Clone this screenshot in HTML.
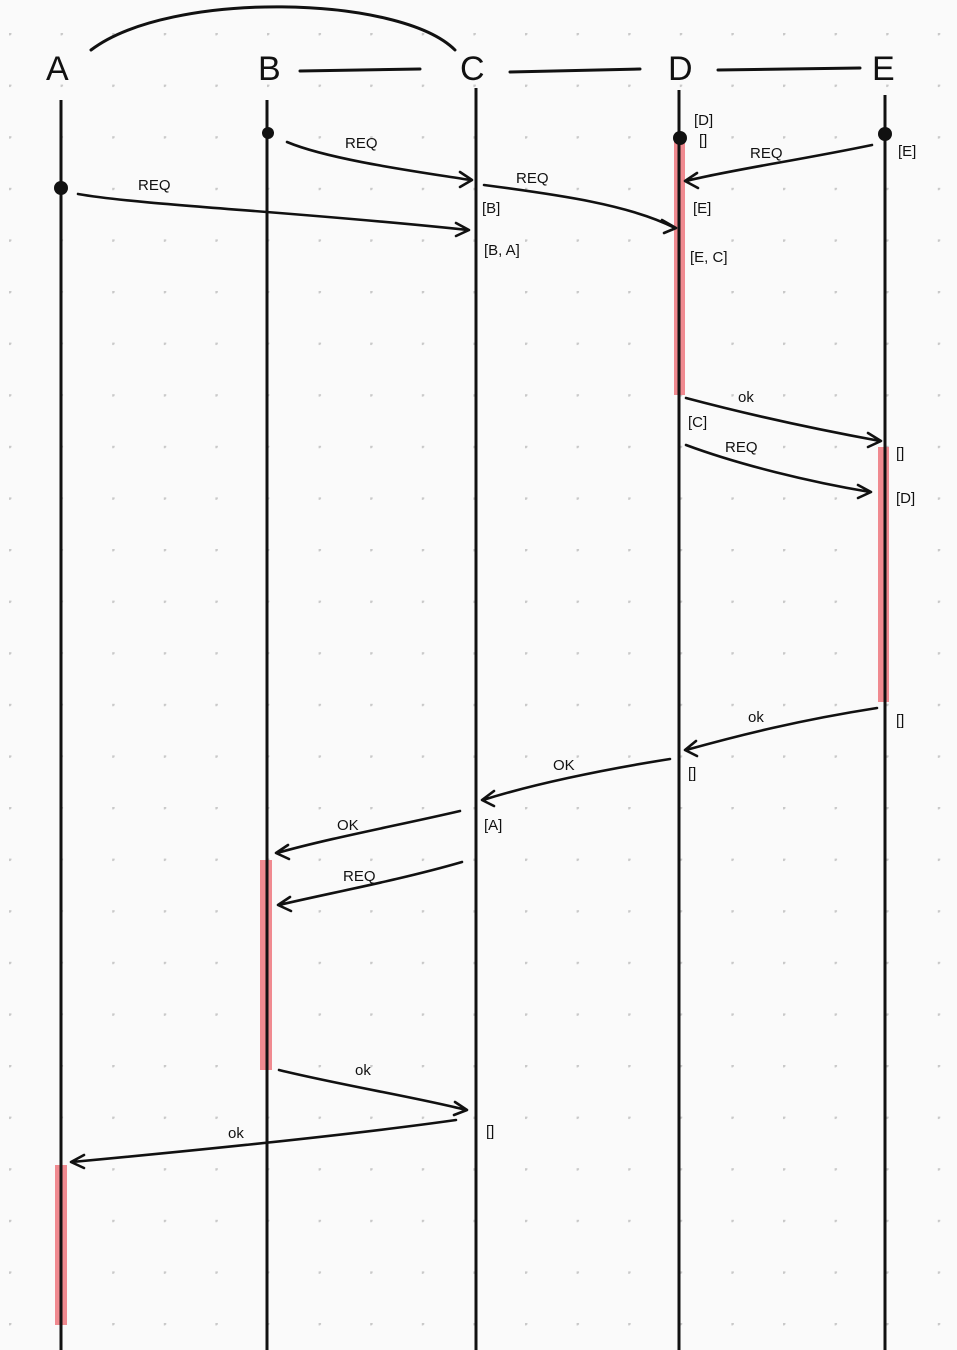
<!DOCTYPE html>
<html><head><meta charset="utf-8"><style>
html,body{margin:0;padding:0;background:#fafafa;}
svg{display:block}
text{font-family:"Liberation Sans",sans-serif;font-size:15px;fill:#111;}
</style></head><body>
<svg width="957" height="1350" viewBox="0 0 957 1350">
<defs>
<pattern id="dots" x="9" y="33" width="51.6" height="51.6" patternUnits="userSpaceOnUse">
<circle cx="0.5" cy="0.5" r="2" fill="#c9c9c9"/></pattern>
</defs>
<rect x="0" y="0" width="957" height="1350" fill="#fafafa"/>
<rect x="0" y="0" width="957" height="1350" fill="url(#dots)"/>
<g stroke="#111" stroke-width="3" fill="none" stroke-linecap="round">
<path d="M91 50 C170 -10 400 -5 455 50"/>
<path d="M300 71 L420 69"/><path d="M510 72 L640 69"/><path d="M718 70 L860 68"/>
</g>
<g fill="#f08a90">
<rect x="674" y="140" width="11" height="255"/>
<rect x="878" y="447" width="11" height="255"/>
<rect x="260" y="860" width="12" height="210"/>
<rect x="55" y="1165" width="12" height="160"/>
</g>
<g stroke="#111" stroke-width="3">
<line x1="61" y1="100" x2="61" y2="1350"/><line x1="267" y1="100" x2="267" y2="1350"/>
<line x1="476" y1="88" x2="476" y2="1350"/><line x1="679" y1="90" x2="679" y2="1350"/>
<line x1="885" y1="95" x2="885" y2="1350"/>
</g>
<g font-size="34">
<text x="46" y="80" style="font-size:34px">A</text>
<text x="258" y="80" style="font-size:34px">B</text>
<text x="460" y="80" style="font-size:34px">C</text>
<text x="668" y="80" style="font-size:34px">D</text>
<text x="872" y="80" style="font-size:34px">E</text>
</g>
<g fill="#111">
<circle cx="61" cy="188" r="7"/><circle cx="268" cy="133" r="6"/><circle cx="680" cy="138" r="7"/><circle cx="885" cy="134" r="7"/>
</g>
<g stroke="#111" stroke-width="2.6" fill="none" stroke-linecap="round" stroke-linejoin="round">
<path d="M287 142 C330 160 420 172 470 180 M460 172 L472 180 L460 187"/>
<path d="M78 194 C140 205 300 212 468 230 M456 223 L469 230 L456 236"/>
<path d="M484 185 C560 195 630 205 675 228 M662 220 L676 228 L664 233"/>
<path d="M872 145 C800 160 730 170 686 181 M697 173 L685 181 L698 188"/>
<path d="M686 398 C750 415 820 430 880 441 M868 433 L881 441 L868 447"/>
<path d="M686 445 C740 465 810 482 870 492 M858 485 L871 492 L858 498"/>
<path d="M877 708 C800 720 740 735 686 750 M696 741 L685 750 L697 756"/>
<path d="M670 759 C600 770 530 785 483 800 M494 791 L482 800 L494 806"/>
<path d="M460 811 C400 825 330 838 277 853 M288 845 L276 853 L289 859"/>
<path d="M462 862 C400 880 330 893 279 905 M290 897 L278 905 L291 911"/>
<path d="M279 1070 C340 1085 420 1098 466 1110 M455 1102 L467 1110 L454 1115"/>
<path d="M456 1120 C350 1135 200 1150 72 1162 M84 1155 L71 1162 L84 1168"/>
</g>
<g>
<text x="345" y="148">REQ</text>
<text x="138" y="190">REQ</text>
<text x="516" y="183">REQ</text>
<text x="750" y="158">REQ</text>
<text x="738" y="402">ok</text>
<text x="725" y="452">REQ</text>
<text x="748" y="722">ok</text>
<text x="553" y="770">OK</text>
<text x="337" y="830">OK</text>
<text x="343" y="881">REQ</text>
<text x="355" y="1075">ok</text>
<text x="228" y="1138">ok</text>
</g>
<g>
<text x="482" y="213">[B]</text>
<text x="484" y="255">[B, A]</text>
<text x="694" y="125" font-size="13">[D]</text>
<text x="699" y="145" font-size="12">[]</text>
<text x="898" y="156">[E]</text>
<text x="693" y="213">[E]</text>
<text x="690" y="262">[E, C]</text>
<text x="688" y="427">[C]</text>
<text x="896" y="458">[]</text>
<text x="896" y="503">[D]</text>
<text x="896" y="725">[]</text>
<text x="688" y="778">[]</text>
<text x="484" y="830">[A]</text>
<text x="486" y="1136">[]</text>
</g>
</svg>
</body></html>
